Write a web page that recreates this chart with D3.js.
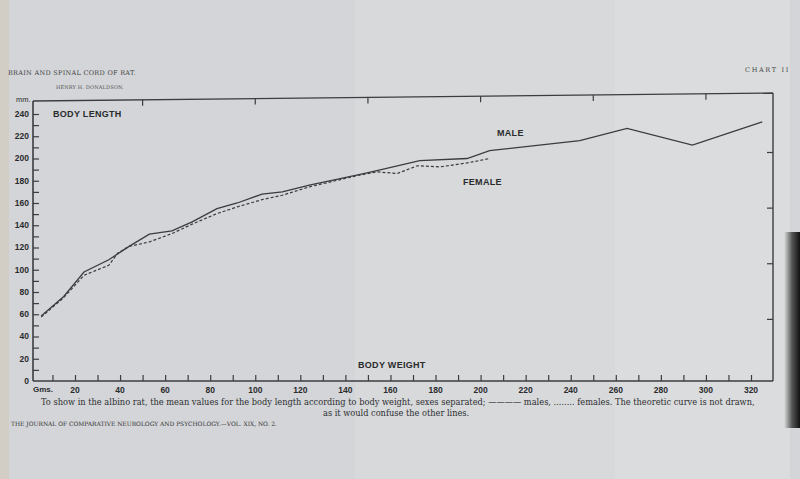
<!DOCTYPE html>
<html><head><meta charset="utf-8">
<script src="https://cdn.jsdelivr.net/npm/d3@7"></script>
<style>
html,body{margin:0;padding:0;background:#d5d7da;}
svg{display:block;}
</style></head>
<body>
<svg id="c" width="800" height="479"></svg>
<script>
// ---- data (body weight in grams, body length in mm) ----
const maleWeight   = [5, 15, 24, 35, 44, 53, 63, 72, 83, 92, 103, 112, 124, 145, 154, 173, 194, 204, 244, 265, 294, 325];
const maleLength   = [58.5, 76, 98, 109, 121, 132, 135, 143, 155, 160, 168, 170, 176, 185, 189, 198, 200, 207, 216, 227, 212, 233];
const femaleWeight = [5, 15, 24, 35, 39, 44, 53, 63, 72, 83, 92, 103, 112, 124, 145, 154, 163, 172, 182, 194, 204];
const femaleLength = [57.5, 75, 95, 104, 115, 121, 125, 132.5, 141, 150.5, 156.5, 163, 167, 174.5, 184.5, 188, 186.5, 193.5, 192.5, 196, 200];
const xTickLabels = [20, 40, 60, 80, 100, 120, 140, 160, 180, 200, 220, 240, 260, 280, 300, 320];
const yTickLabels = [0, 20, 40, 60, 80, 100, 120, 140, 160, 180, 200, 220, 240];
const xMinorTicks = d3.range(10, 330, 10);
const yMinorTicks = d3.range(10, 250, 10);
const topTicks = [50, 100, 150, 200, 250, 300];
const rightTicks = [50, 100, 150, 200];

const svg = d3.select("#c");
const ink = "#3b3d40";

// paper tones
svg.append("rect").attr("width",800).attr("height",479).attr("fill","#d3d5d8");
svg.append("rect").attr("x",0).attr("y",0).attr("width",9).attr("height",479).attr("fill","#d2cec6");
svg.append("rect").attr("x",355).attr("y",0).attr("width",260).attr("height",479).attr("fill","#d7d9db");
svg.append("rect").attr("x",615).attr("y",0).attr("width",175).attr("height",479).attr("fill","#dadcdd");
const g = svg.append("defs").append("linearGradient").attr("id","edge").attr("x1","0").attr("x2","1");
g.append("stop").attr("offset","0").attr("stop-color","#dcdedf");
g.append("stop").attr("offset","0.5").attr("stop-color","#555");
g.append("stop").attr("offset","1").attr("stop-color","#111");
svg.append("rect").attr("x",784).attr("y",232).attr("width",16).attr("height",196).attr("fill","url(#edge)");

const x = d3.scaleLinear().domain([20, 320]).range([75, 751]);
const y = d3.scaleLinear().domain([0, 240]).range([381, 114]);
const L = 33, R = 773, B = 381;

// frame
svg.append("line").attr("x1",L).attr("x2",L).attr("y1",101).attr("y2",B).attr("stroke",ink).attr("stroke-width",1.6);
svg.append("line").attr("x1",L).attr("x2",R).attr("y1",B).attr("y2",B).attr("stroke",ink).attr("stroke-width",1.6);
svg.append("line").attr("x1",R).attr("x2",R).attr("y1",93).attr("y2",B).attr("stroke",ink).attr("stroke-width",1.4);
svg.append("line").attr("x1",L).attr("x2",R).attr("y1",101).attr("y2",93).attr("stroke",ink).attr("stroke-width",1.4);

// bottom axis
const xAxis = d3.axisTop(x).tickValues(xMinorTicks).tickSize(6).tickFormat("");
const xa = svg.append("g").attr("transform",`translate(0,${B})`).call(xAxis);
xa.select(".domain").remove();
xa.selectAll("line").attr("stroke",ink).attr("stroke-width",1.2);
svg.append("g").selectAll("text").data(xTickLabels).join("text")
  .attr("x",d=>x(d)).attr("y",393).attr("text-anchor","middle")
  .attr("font-family","Liberation Sans, Arial, sans-serif").attr("font-size",8.5).attr("font-weight","bold")
  .attr("fill","#2a2b2d").text(d=>d);
svg.append("text").attr("x",33).attr("y",392).attr("font-family","Liberation Sans, Arial, sans-serif")
  .attr("font-size",8).attr("font-weight","bold").attr("fill","#2a2b2d").text("Gms.");

// left axis
const yAxis = d3.axisRight(y).tickValues(yMinorTicks).tickSize(6).tickFormat("");
const ya = svg.append("g").attr("transform",`translate(${L},0)`).call(yAxis);
ya.select(".domain").remove();
ya.selectAll("line").attr("stroke",ink).attr("stroke-width",1.2);
svg.append("g").selectAll("text").data(yTickLabels).join("text")
  .attr("x",29).attr("y",d=>y(d)).attr("dy","0.35em").attr("text-anchor","end")
  .attr("font-family","Liberation Sans, Arial, sans-serif").attr("font-size",8.5).attr("font-weight","bold")
  .attr("fill","#2a2b2d").text(d=>d);
svg.append("text").attr("x",16).attr("y",102).attr("font-family","Liberation Sans, Arial, sans-serif")
  .attr("font-size",7.5).attr("fill","#2a2b2d").text("mm.");

// top ticks (frame slants slightly)
const topY = px => 101 + (93-101)*(px-L)/(R-L);
svg.append("g").selectAll("line").data(topTicks).join("line")
  .attr("x1",d=>x(d)).attr("x2",d=>x(d)).attr("y1",d=>topY(x(d))).attr("y2",d=>topY(x(d))+6)
  .attr("stroke",ink).attr("stroke-width",1.2);
// right ticks
svg.append("g").selectAll("line").data(rightTicks).join("line")
  .attr("x1",R).attr("x2",R-6).attr("y1",d=>y(d)-6).attr("y2",d=>y(d)-6)
  .attr("stroke",ink).attr("stroke-width",1.2);

// lines
const line = d3.line().x(d=>x(d[0])).y(d=>y(d[1]));
const male = maleWeight.map((w,i)=>[w, maleLength[i]]);
const female = femaleWeight.map((w,i)=>[w, femaleLength[i]]);
svg.append("path").datum(female).attr("d",line).attr("fill","none").attr("stroke","#3a3c3f")
  .attr("stroke-width",1.2).attr("stroke-dasharray","3,2");
svg.append("path").datum(male).attr("d",line).attr("fill","none").attr("stroke","#3a3c3f")
  .attr("stroke-width",1.3);

// chart labels
const lab = (t,xx,yy,s)=>svg.append("text").attr("x",xx).attr("y",yy)
  .attr("font-family","Liberation Sans, Arial, sans-serif").attr("font-size",s||9).attr("font-weight","bold")
  .attr("fill","#2a2b2d").attr("letter-spacing",0.3).text(t);
lab("BODY LENGTH",53,117,9);
lab("MALE",497,136,9);
lab("FEMALE",463,185,9);
lab("BODY WEIGHT",358,368,9);

// header/footer texts: shrink if too wide, else spread with letter-spacing to target width
const serif = "DejaVu Serif, Liberation Serif, serif";
function fitText(t, xx, yy, w, size, fill){
  const el = svg.append("text").attr("x",xx).attr("y",yy).attr("font-family",serif)
    .attr("font-size",size).attr("fill",fill).text(t);
  const len = el.node().getComputedTextLength();
  if (len > w) el.attr("font-size", size * w / len);
  else if (len > 0) el.attr("letter-spacing", (w - len) / t.length);
  return el;
}
fitText("BRAIN AND SPINAL CORD OF RAT.", 8, 75, 128, 6.5, "#444");
fitText("HENRY H. DONALDSON.", 56, 89, 68, 5, "#555");
fitText("CHART II", 745, 72, 45, 6.5, "#444");
fitText("To show in the albino rat, the mean values for the body length according to body weight, sexes separated; ———— males, ........ females.  The theoretic curve is not drawn,", 41, 405, 712, 8.4, "#2e2f31");
fitText("as it would confuse the other lines.", 323, 416, 146, 8.4, "#2e2f31");
fitText("THE JOURNAL OF COMPARATIVE NEUROLOGY AND PSYCHOLOGY.—VOL. XIX, NO. 2.", 11, 426, 267, 6, "#333");
</script>
</body></html>
